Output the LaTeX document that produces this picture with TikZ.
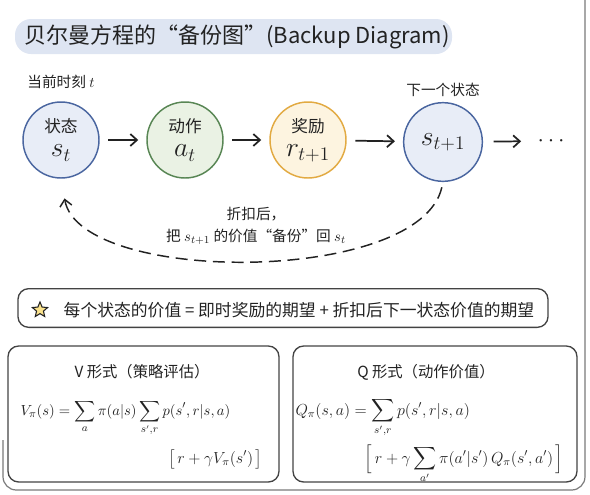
\documentclass[tikz,border=0pt]{standalone}
\usepackage{fontspec}
\setmainfont{Noto Sans CJK SC}
\usepackage{amsmath}
\usetikzlibrary{arrows.meta,shapes.geometric}

\definecolor{inkdark}{RGB}{34,34,34}
\definecolor{stblue}{RGB}{74,102,160}
\definecolor{stfill}{RGB}{232,237,247}
\definecolor{actgreen}{RGB}{88,134,84}
\definecolor{actfill}{RGB}{234,242,228}
\definecolor{rwdorange}{RGB}{226,170,66}
\definecolor{rwdfill}{RGB}{253,244,224}
\definecolor{titlebg}{RGB}{222,229,242}
\definecolor{starfill}{RGB}{250,226,140}

\tikzset{every picture/.style={line width=0.75pt}}

\begin{document}
\begin{tikzpicture}[x=0.75pt,y=0.75pt,yscale=-1,xscale=1,
  statenode/.style={circle, draw=stblue, fill=stfill, line width=1.1pt, minimum size=57pt, inner sep=0pt, align=center, text=inkdark},
  actnode/.style={statenode, draw=actgreen, fill=actfill},
  rwdnode/.style={statenode, draw=rwdorange, fill=rwdfill},
  flow/.style={-{Straight Barb[length=5pt,width=9pt]}, line width=1.3pt, draw=inkdark, shorten <=6.5pt, shorten >=6pt},
  backup/.style={-{Straight Barb[length=5pt,width=9pt]}, dash pattern=on 9pt off 5pt, line width=1.1pt, draw=inkdark},
  panel/.style={draw=inkdark!85, line width=1pt, rounded corners=8pt},
  smalltext/.style={font=\fontsize{11}{13}\selectfont, text=inkdark},
  mathtext/.style={font=\fontsize{11.5}{14}\selectfont, text=inkdark, inner sep=0pt}]
\useasboundingbox (0,0) rectangle (590,494);

%Outer frame
\draw [draw=inkdark!60, line width=0.9pt, rounded corners=10pt] (3,440) -- (3,490) -- (585,490) -- (585,-5) ;

%Title highlight
\fill [titlebg, rounded corners=12pt] (15,19) rectangle (452,54) ;
% Text Node
\draw (237,37) node [font=\fontsize{16.5}{19}\selectfont, text=inkdark] (title) {贝尔曼方程的“备份图”(Backup Diagram)};

% Text Node
\draw (61,82) node [smalltext] (nowlbl) {当前时刻 $t$};
% Text Node
\draw (443,90) node [smalltext] (nextlbl) {下一个状态};

%Shape: Circles
\draw (61,140) node [statenode] (st) {{\fontsize{12.5}{15}\selectfont 状态}\\[6pt]{\fontsize{20}{22}\selectfont $s_t$}};
\draw (185,140) node [actnode] (at) {{\fontsize{12.5}{15}\selectfont 动作}\\[6pt]{\fontsize{20}{22}\selectfont $a_t$}};
\draw (308,140) node [rwdnode] (rt) {{\fontsize{12.5}{15}\selectfont 奖励}\\[6pt]{\fontsize{20}{22}\selectfont $r_{t+1}$}};
\draw (443,142) node [statenode, minimum size=59pt] (snext) {{\fontsize{21}{23}\selectfont $s_{t+1}$}};
% Text Node
\draw (553,141) node [inner sep=0pt, font=\fontsize{17}{19}\selectfont, text=inkdark] (dots) {$\cdots$};

%Straight Lines
\draw [flow] (st) -- (at) ;
\draw [flow] (at) -- (rt) ;
\draw [flow] (rt) -- (snext) ;
\draw [flow, shorten <=8pt, shorten >=12pt] (snext) -- (dots) ;

%Curve Lines
\draw [backup, shorten <=4pt, shorten >=15pt] (snext.south) .. controls (420,285) and (80,285) .. (st.south) ;
% Text Node
\draw (256,226) node [smalltext, align=center] (backlbl) {折扣后，\\[3pt]把 $s_{t+1}$ 的价值“备份”回 $s_t$};

%Summary box
\draw (283,308) node [panel, minimum width=397.5pt, minimum height=29pt] (sumbox) {};
\draw (40,310) node [star, star points=5, star point ratio=2.2, minimum size=12pt, inner sep=0pt, fill=starfill, draw=inkdark, line width=0.8pt] (staricon) {};
% Text Node
\draw (299,310) node [font=\fontsize{12.6}{15}\selectfont, text=inkdark] (sumtext) {每个状态的价值 = 即时奖励的期望 + 折扣后下一状态价值的期望};

%Shape: Rectangles
\draw [panel] (8,346) rectangle (279,482) ;
\draw [panel] (293,346) rectangle (577,482) ;

% Text Node
\draw (142,372) node [font=\fontsize{11.5}{14}\selectfont, text=inkdark] (vtitle) {V 形式（策略评估）};
\draw (20,415) node [anchor=base west, mathtext, font=\fontsize{11}{13}\selectfont] (vline1) {$\displaystyle V_\pi(s) = \sum_a \pi(a|s) \sum_{s',r} p(s',r|s,a)$};
\draw (263,463) node [anchor=base east, mathtext] (vline2) {$\displaystyle \big[\, r + \gamma V_\pi(s') \,\big]$};

% Text Node
\draw (426,372) node [font=\fontsize{11.5}{14}\selectfont, text=inkdark] (qtitle) {Q 形式（动作价值）};
\draw (295,415) node [anchor=base west, mathtext] (qline1) {$\displaystyle Q_\pi(s,a) = \sum_{s',r} p(s',r|s,a)$};
\draw (564,463) node [anchor=base east, mathtext] (qline2) {$\displaystyle \Big[\, r + \gamma \sum_{a'} \pi(a'|s')\, Q_\pi(s',a') \,\Big]$};

\end{tikzpicture}
\end{document}
